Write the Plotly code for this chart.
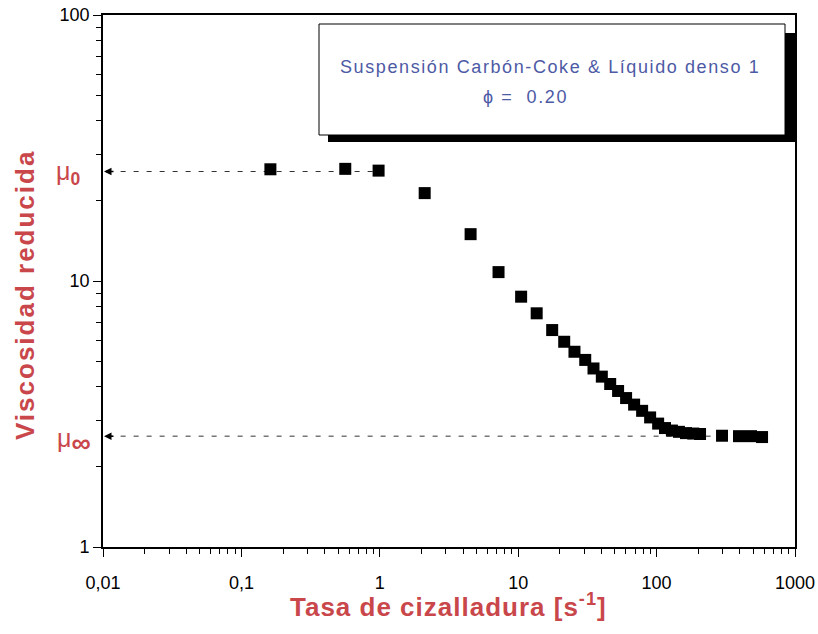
import math
import plotly.graph_objects as go

# Shear-rate sweep of the carbon-coke suspension (phi = 0.20)
shear_rate = [0.162, 0.563, 0.98, 2.11, 4.53, 7.21, 10.5, 13.6, 17.6, 21.5,
              25.5, 30.5, 35.0, 40.2, 46.2, 52.7, 60.2, 68.8, 78.6, 89.8,
              102.6, 115, 129, 145, 163, 184, 206, 297, 394, 481, 578]
reduced_viscosity = [26.3, 26.4, 26.0, 21.4, 15.0, 10.8, 8.73, 7.56, 6.54, 5.91,
                     5.42, 5.05, 4.69, 4.37, 4.10, 3.86, 3.63, 3.43, 3.25, 3.07,
                     2.91, 2.80, 2.74, 2.71, 2.68, 2.67, 2.66, 2.62, 2.61, 2.61, 2.59]

# Newtonian plateaus
mu_zero = 25.8
mu_inf = 2.61

x_ticks = [0.01, 0.1, 1, 10, 100, 1000]
x_tick_labels = ["0,01", "0,1", "1", "10", "100", "1000"]
y_ticks = [1, 10, 100]
y_tick_labels = ["1", "10", "100"]

RED = "#c9474b"
BLUE = "#4d5aa5"
FONT = "Liberation Sans, Arial, sans-serif"

x_minor = [m * 10 ** e for e in range(-2, 3) for m in range(2, 10)]
y_minor = [m * 10 ** e for e in range(0, 2) for m in range(2, 10)]

fig = go.Figure()

# plateau guide lines
fig.add_trace(go.Scatter(x=[0.0108, shear_rate[2]], y=[mu_zero, mu_zero], mode="lines",
                         line=dict(color="#333333", width=1, dash="5px,8px"),
                         hoverinfo="skip", showlegend=False))
fig.add_trace(go.Scatter(x=[0.0108, shear_rate[27]], y=[mu_inf, mu_inf], mode="lines",
                         line=dict(color="#333333", width=1, dash="5px,8px"),
                         hoverinfo="skip", showlegend=False))

fig.add_trace(go.Scatter(x=shear_rate, y=reduced_viscosity, mode="markers",
                         marker=dict(symbol="square", size=12, color="black",
                                     line=dict(width=0)),
                         showlegend=False))

axis_common = dict(
    type="log", showgrid=False, zeroline=False, showline=True, linecolor="black",
    linewidth=1.6, mirror=True, ticks="outside", ticklen=8, tickwidth=1.2,
    tickcolor="black", tickfont=dict(family=FONT, size=18, color="black"),
    tickmode="array", automargin=False,
)

fig.update_xaxes(**axis_common, range=[-2, 3], tickvals=x_ticks, ticktext=x_tick_labels,
                 ticklabelstandoff=11,
                 minor=dict(ticks="outside", ticklen=5, tickwidth=1, tickcolor="black",
                            tickmode="array", tickvals=x_minor, showgrid=False))
fig.update_yaxes(**axis_common, range=[0, 2], tickvals=y_ticks, ticktext=y_tick_labels,
                 minor=dict(ticks="outside", ticklen=5, tickwidth=1, tickcolor="black",
                            tickmode="array", tickvals=y_minor, showgrid=False))

# paper-coordinate helpers (plot area: 103..795 px wide, 15..547 px tall)
L, R, T, B = 103, 795, 15, 547
W, H = R - L, B - T


def px(xp):
    return (xp - L) / W


def py(yp):
    return (B - yp) / H


shapes = [
    # drop shadow of the info box
    dict(type="rect", xref="paper", yref="paper", x0=px(328), x1=px(796),
         y0=py(142), y1=py(33), fillcolor="black", line=dict(width=0), layer="above"),
    dict(type="rect", xref="paper", yref="paper", x0=px(319), x1=px(785),
         y0=py(135), y1=py(24), fillcolor="white", line=dict(color="black", width=1),
         layer="above"),
]

box_style = "letter-spacing:1.6px"


def label(text, xp, yp, size, color, angle=0):
    return dict(text=text, xref="paper", yref="paper", x=px(xp), y=py(yp),
                xanchor="center", yanchor="middle", textangle=angle, showarrow=False,
                font=dict(family=FONT, size=size, color=color))


annotations = [
    label(f'<span style="{box_style}">Suspensión Carbón-Coke &amp; Líquido denso 1</span>',
          550, 67, 18, BLUE),
    label(f'<span style="{box_style}">ϕ =  0.20</span>', 525, 97, 18, BLUE),
    label('<span style="letter-spacing:2px"><b>Viscosidad reducida</b></span>',
          25, 295, 26, RED, angle=-90),
    label('<span style="letter-spacing:1px"><b>Tasa de cizalladura [s<sup>-1</sup>]</b></span>',
          448, 605, 26, RED),
    label("μ<sub><b>0</b></sub>", 68, 173, 25, RED),
    label('μ<sub><b><span style="font-size:27px">∞</span></b></sub>', 74, 441, 25, RED),
    # arrowheads at the viscosity axis
    dict(x=-2, y=math.log10(mu_zero), xref="x", yref="y", ax=12, ay=0, text="",
         showarrow=True, arrowhead=2, arrowsize=1, arrowwidth=1.5, arrowcolor="black",
         standoff=1),
    dict(x=-2, y=math.log10(mu_inf), xref="x", yref="y", ax=12, ay=0, text="",
         showarrow=True, arrowhead=2, arrowsize=1, arrowwidth=1.5, arrowcolor="black",
         standoff=1),
]

fig.update_layout(
    width=818, height=634,
    margin=dict(l=L, r=818 - R, t=T, b=634 - B),
    paper_bgcolor="white", plot_bgcolor="white",
    shapes=shapes, annotations=annotations,
    font=dict(family=FONT),
)

fig.write_html("out.html")
